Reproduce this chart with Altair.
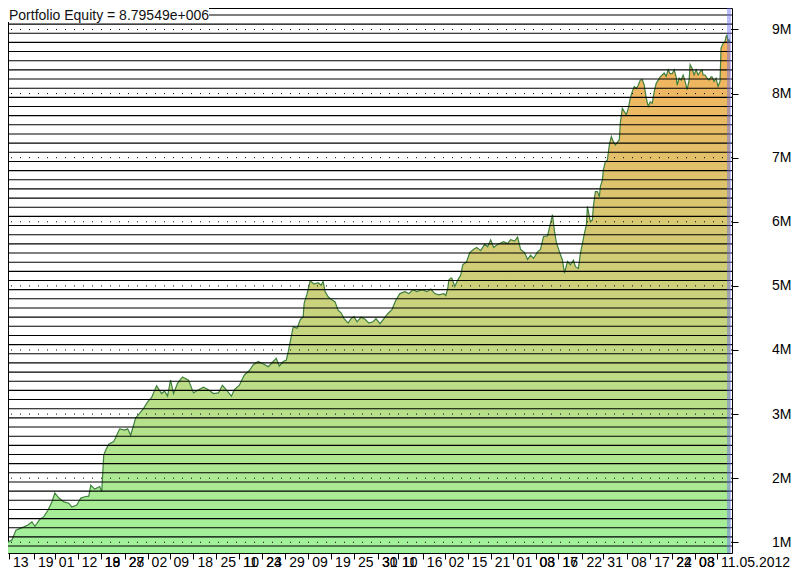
import altair as alt
import pandas as pd

# ---- data (bar index, equity in millions) ----
bars = [0, 4, 8, 11, 16, 20, 24, 27, 32, 36, 40, 44, 47, 51, 56, 61, 64, 69, 73, 77,
        81, 83, 87, 92, 94, 96, 98, 101, 106, 109, 112, 117, 120, 123, 126, 128, 132, 136, 140, 144,
        149, 154, 157, 160, 163, 166, 170, 175, 181, 186, 191, 196, 201, 206, 211, 215, 220, 224, 227, 232,
        237, 242, 246, 251, 256, 261, 266, 269, 272, 276, 279, 281, 284, 286, 290, 293, 296, 297, 300, 303,
        307, 311, 314, 316, 318, 321, 324, 328, 331, 334, 337, 341, 344, 347, 350, 354, 358, 362, 366, 369,
        373, 377, 381, 385, 389, 393, 398, 402, 406, 410, 415, 420, 424, 428, 432, 437, 439, 441, 442, 444,
        445, 448, 451, 454, 456, 460, 463, 467, 470, 474, 478, 481, 484, 487, 491, 494, 497, 501, 504, 508,
        511, 514, 518, 521, 524, 527, 531, 534, 537, 541, 544, 546, 548, 550, 553, 556, 558, 561, 564, 567,
        569, 572, 574, 576, 578, 580, 581, 584, 586, 587, 589, 591, 593, 594, 596, 597, 599, 601, 603, 605,
        607, 609, 611, 613, 614, 616, 618, 620, 622, 624, 626, 628, 630, 632, 634, 636, 638, 640, 642, 644,
        646, 648, 650, 652, 654, 656, 658, 660, 662, 664, 666, 668, 670, 671, 673, 675, 677, 679, 681, 683,
        684, 686, 688, 690, 692, 694, 696, 697, 699, 701, 703, 705, 706, 708, 710, 712, 714, 715, 717, 719,
        720, 721, 722, 723, 724]
equity = [1.00, 1.04, 1.19, 1.21, 1.24, 1.27, 1.32, 1.25, 1.36, 1.40, 1.50, 1.63, 1.77, 1.69, 1.63, 1.61, 1.55, 1.58, 1.69, 1.71,
          1.72, 1.89, 1.83, 1.87, 1.79, 2.36, 2.44, 2.53, 2.57, 2.67, 2.77, 2.75, 2.77, 2.67, 2.83, 2.94, 3.01, 3.09, 3.19, 3.26,
          3.44, 3.32, 3.36, 3.28, 3.53, 3.32, 3.48, 3.58, 3.53, 3.33, 3.38, 3.42, 3.38, 3.32, 3.33, 3.45, 3.36, 3.28, 3.38, 3.45,
          3.61, 3.68, 3.77, 3.82, 3.78, 3.74, 3.82, 3.87, 3.75, 3.82, 3.84, 3.97, 4.21, 4.36, 4.34, 4.47, 4.52, 4.73, 4.88, 5.08,
          5.03, 5.05, 5.01, 5.07, 4.91, 4.83, 4.79, 4.75, 4.62, 4.58, 4.49, 4.42, 4.49, 4.52, 4.44, 4.51, 4.48, 4.42, 4.44, 4.49,
          4.41, 4.49, 4.57, 4.63, 4.78, 4.88, 4.91, 4.88, 4.94, 4.91, 4.94, 4.91, 4.95, 4.88, 4.86, 4.88, 4.85, 4.96, 5.09, 5.12,
          5.12, 4.99, 5.09, 5.17, 5.33, 5.38, 5.52, 5.57, 5.60, 5.55, 5.65, 5.61, 5.72, 5.60, 5.65, 5.67, 5.69, 5.66, 5.72, 5.70,
          5.76, 5.57, 5.52, 5.41, 5.48, 5.43, 5.53, 5.57, 5.77, 5.78, 5.98, 6.11, 5.85, 5.67, 5.53, 5.40, 5.20, 5.38, 5.33, 5.40,
          5.30, 5.27, 5.51, 5.66, 5.82, 5.95, 6.24, 6.00, 6.03, 6.24, 6.47, 6.47, 6.39, 6.55, 6.65, 6.81, 6.94, 6.96, 7.20, 7.33,
          7.25, 7.20, 7.24, 7.28, 7.54, 7.77, 7.72, 7.67, 7.77, 7.93, 8.03, 8.11, 8.08, 8.13, 8.21, 8.22, 8.13, 7.93, 7.80, 7.87,
          7.85, 8.03, 8.16, 8.21, 8.26, 8.29, 8.32, 8.27, 8.37, 8.31, 8.31, 8.37, 8.26, 8.13, 8.24, 8.21, 8.29, 8.19, 8.06, 8.21,
          8.45, 8.39, 8.29, 8.37, 8.29, 8.34, 8.37, 8.29, 8.29, 8.24, 8.21, 8.26, 8.26, 8.19, 8.24, 8.11, 8.19, 8.71, 8.78, 8.81,
          8.89, 8.91, 8.81, 8.84, 8.80]

# date tick labels (bar index of each tick; overlapped labels in the second list)
tick_bars = [1, 26, 47, 70, 93, 117, 140, 162, 186, 209, 232, 255, 278, 301, 324, 347,
             371, 391, 416, 438, 461, 484, 506, 529, 552, 576, 597, 621, 644, 666, 689, 711]
tick_labels = ["13", "19", "01", "12", "18", "28", "02", "09", "18", "25", "10", "23", "29", "09", "19", "25",
               "30", "10", "16", "02", "15", "21", "01", "08", "16", "22", "31", "08", "17", "22", "03", "11.05.2012"]
tick_labels2 = ["", "", "", "", "19", "27", "", "", "", "", "11", "24", "", "", "", "",
                "31", "11", "", "", "", "", "", "03", "17", "", "", "", "", "24", "08", ""]

million_ticks = [1, 2, 3, 4, 5, 6, 7, 8, 9]
hatch_lines = [round(k / 7 + 0.084, 4) for k in range(6, 66)]
current_bar = [721, 725]
title_text = "Portfolio Equity = 8.79549e+006"

Y_MIN, Y_MAX = 0.833, 9.335
X_MIN, X_MAX = 0, 726
FONT = "Liberation Sans"

eq_df = pd.DataFrame({"bar": bars, "equity": equity})
tick_df = pd.DataFrame({"bar": tick_bars, "lab": tick_labels, "lab2": tick_labels2})
hatch_df = pd.DataFrame({"v": hatch_lines})
mill_df = pd.DataFrame({"v": million_ticks})
cur_df = pd.DataFrame({"b0": [current_bar[0]], "b1": [current_bar[1]]})

xscale = alt.Scale(domain=[X_MIN, X_MAX], nice=False, zero=False)
yscale = alt.Scale(domain=[Y_MIN, Y_MAX], nice=False, zero=False)

x_axis = alt.Axis(values=tick_bars, labels=False, ticks=True, tickSize=6, tickColor="black",
                  domain=False, grid=False, title=None)
y_axis = alt.Axis(orient="right", values=million_ticks, labelExpr="datum.value + 'M'",
                  labelAlign="right", labelPadding=53, labelFontSize=14, labelFont=FONT,
                  labelColor="black", tickSize=6, tickColor="black", domain=False,
                  grid=False, title=None)


def X(field):
    return alt.X(field, type="quantitative", scale=xscale, axis=x_axis)


def Y(field):
    return alt.Y(field, type="quantitative", scale=yscale, axis=y_axis)


area = alt.Chart(eq_df).mark_area(
    clip=True,
    color=alt.Gradient(gradient="linear", x1=0, x2=0, y1=1, y2=0,
                       stops=[alt.GradientStop(color="#a0f29c", offset=0),
                              alt.GradientStop(color="#f7b05a", offset=1)]),
).encode(x=X("bar"), y=Y("equity"), y2=alt.datum(Y_MIN))

line = alt.Chart(eq_df).mark_line(clip=True, color="#3f803f", strokeWidth=1.2).encode(
    x=X("bar"), y=Y("equity"))

hatch = alt.Chart(hatch_df).mark_rule(clip=True, color="black", strokeWidth=1.1).encode(
    y=Y("v"))

dotted = alt.Chart(mill_df).mark_rule(clip=True, color="black", strokeWidth=1,
                                      strokeDash=[1, 8]).encode(y=Y("v"))

cur = alt.Chart(cur_df).mark_rect(clip=True, color="#6a6af0", opacity=0.45).encode(
    x=X("b0"), x2="b1:Q")

title_bg = alt.Chart(cur_df).mark_rect(color="white").encode(
    x=alt.value(0), x2=alt.value(201), y=alt.value(0), y2=alt.value(14))
title = alt.Chart(cur_df).mark_text(align="left", baseline="top", fontSize=14, font=FONT,
                                    color="#111111").encode(
    x=alt.value(1), y=alt.value(1), text=alt.value(title_text))

lab1 = alt.Chart(tick_df).mark_text(align="left", baseline="top", fontSize=14, font=FONT,
                                    color="black", dx=4).encode(
    x=X("bar"), y=alt.value(548), text="lab:N")
lab2 = alt.Chart(tick_df).mark_text(align="left", baseline="top", fontSize=14, font=FONT,
                                    color="black", dx=4).encode(
    x=X("bar"), y=alt.value(548), text="lab2:N")

chart = alt.layer(area, line, hatch, dotted, cur, title_bg, title, lab1, lab2).properties(
    width=724, height=545,
    padding={"left": 0, "top": 0, "right": 0, "bottom": 0},
    background="white",
).configure_view(stroke="black", strokeWidth=1)

chart.save("out.html", embed_options={"renderer": "svg", "actions": False})
